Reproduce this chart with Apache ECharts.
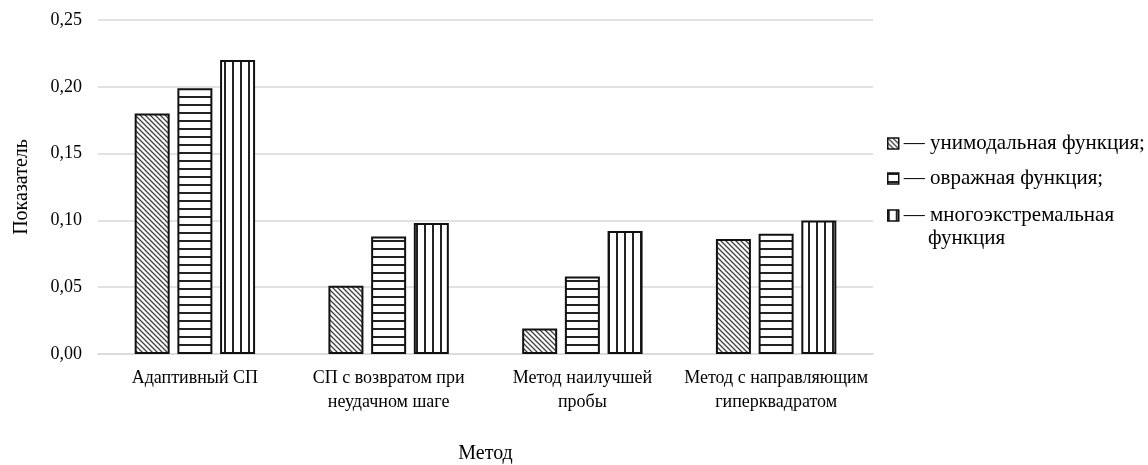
<!DOCTYPE html>
<html>
<head>
<meta charset="utf-8">
<script src="https://cdn.jsdelivr.net/npm/echarts@6/dist/echarts.min.js"></script>
<style>
  html, body { margin: 0; padding: 0; background: #fff; }
  #main { width: 1148px; height: 465px; }
</style>
</head>
<body>
<div id="main"></div>
<script>
// данные
var categories = ['Адаптивный СП', 'СП с возвратом при\nнеудачном шаге', 'Метод наилучшей\nпробы', 'Метод с направляющим\nгиперквадратом'];
var seriesNames = ['унимодальная функция;', 'овражная функция;', 'многоэкстремальная функция'];
var unimodal = [0.18, 0.051, 0.019, 0.086];
var ravine = [0.199, 0.088, 0.058, 0.090];
var multiExtremal = [0.22, 0.098, 0.092, 0.100];

var FONT = '"Times New Roman", "Liberation Serif", serif';

// штриховки
function makePattern(kind) {
  var c = document.createElement('canvas');
  var ctx;
  if (kind === 'diag') {
    c.width = 5; c.height = 5;
    ctx = c.getContext('2d');
    ctx.fillStyle = '#fff'; ctx.fillRect(0, 0, 5, 5);
    ctx.strokeStyle = '#404040'; ctx.lineWidth = 1.3;
    ctx.beginPath();
    ctx.moveTo(-1, -1); ctx.lineTo(6, 6);
    ctx.moveTo(-1, 4); ctx.lineTo(1, 6);
    ctx.moveTo(4, -1); ctx.lineTo(6, 1);
    ctx.stroke();
  } else if (kind === 'horiz') {
    c.width = 4; c.height = 8;
    ctx = c.getContext('2d');
    ctx.fillStyle = '#fff'; ctx.fillRect(0, 0, 4, 8);
    ctx.fillStyle = '#222'; ctx.fillRect(0, 0, 4, 2);
  } else {
    c.width = 8; c.height = 4;
    ctx = c.getContext('2d');
    ctx.fillStyle = '#fff'; ctx.fillRect(0, 0, 8, 4);
    ctx.fillStyle = '#222'; ctx.fillRect(0, 0, 2, 4);
  }
  return { image: c, repeat: 'repeat' };
}

var patterns = [makePattern('diag'), makePattern('horiz'), makePattern('vert')];
var dataSets = [unimodal, ravine, multiExtremal];

var series = dataSets.map(function (d, i) {
  return {
    name: seriesNames[i],
    type: 'bar',
    data: d,
    barWidth: 35,
    barGap: '22%',
    itemStyle: { color: patterns[i], borderColor: '#111', borderWidth: 2 }
  };
});

var legendTops = [133, 168, 205];
var legends = seriesNames.map(function (n, i) {
  return {
    left: 887,
    top: legendTops[i],
    padding: 0,
    data: [n],
    icon: 'rect',
    itemWidth: 11,
    itemHeight: 11,
    itemStyle: { borderColor: '#111', borderWidth: 1.5 },
    selectedMode: false,
    formatter: function (name) {
      return name === 'многоэкстремальная функция' ? '— многоэкстремальная' : '— ' + name;
    },
    textStyle: { fontFamily: FONT, fontSize: 21, color: '#000' }
  };
});

var chart = echarts.init(document.getElementById('main'));
chart.setOption({
  animation: false,
  backgroundColor: '#fff',
  grid: { left: 98, right: 275, top: 20, bottom: 111, outerBoundsMode: 'none', containLabel: false },
  legend: legends,
  graphic: [{
    type: 'text',
    left: 928,
    top: 228,
    style: { text: 'функция', fontFamily: FONT, fontSize: 21, fill: '#000' }
  }],
  xAxis: {
    type: 'category',
    data: categories,
    name: 'Метод',
    nameLocation: 'middle',
    nameGap: 90,
    nameTextStyle: { fontFamily: FONT, fontSize: 20, color: '#000' },
    axisLine: { lineStyle: { color: '#d9d9d9', width: 1.5 } },
    axisTick: { show: false },
    axisLabel: { fontFamily: FONT, fontSize: 18, color: '#000', margin: 12, lineHeight: 24, interval: 0 }
  },
  yAxis: {
    type: 'value',
    min: 0,
    max: 0.25,
    interval: 0.05,
    name: 'Показатель',
    nameLocation: 'middle',
    nameGap: 66,
    nameTextStyle: { fontFamily: FONT, fontSize: 20, color: '#000' },
    axisLine: { show: false },
    axisTick: { show: false },
    splitLine: { lineStyle: { color: '#d9d9d9', width: 1.5 } },
    axisLabel: {
      fontFamily: FONT, fontSize: 18, color: '#000', margin: 16,
      formatter: function (v) { return v.toFixed(2).replace('.', ','); }
    }
  },
  series: series
});
</script>
</body>
</html>
